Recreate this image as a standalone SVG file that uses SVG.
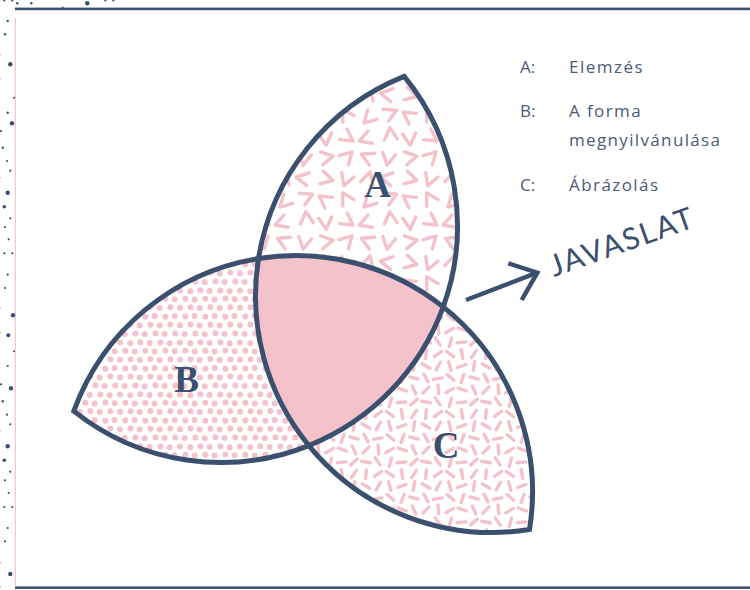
<svg xmlns="http://www.w3.org/2000/svg" xmlns:xlink="http://www.w3.org/1999/xlink" width="750" height="590" viewBox="0 0 750 590">
<style>
.pk{fill:none;stroke:#f4c2cb;stroke-width:3.4;stroke-linecap:round;stroke-linejoin:round}
.dot{fill:#f4c2cb}
.nv{fill:#3b4f6f}
.line{fill:none;stroke:#3b4f6f;stroke-width:5;stroke-linejoin:miter}
.lbl{font-family:"Liberation Serif","Times New Roman",serif;font-weight:bold;font-size:37px;fill:#3b4f6f;text-anchor:middle}
.leg{font-family:"Open Sans",Lato,sans-serif;font-size:17px;fill:#4b5a78}
.jav{font-family:Lato,"Open Sans",sans-serif;font-size:30px;fill:#3b4f6f}
.arrow{fill:none;stroke:#3b4f6f;stroke-width:4.5;stroke-linejoin:miter}
</style>
<defs>
<path id="chev" class="pk" d="M-6.5,-3.9 L0,7.8 L6.5,-3.9"/>
<line id="dash" class="pk" x1="-4.4" y1="0" x2="4.4" y2="0"/>
<pattern id="patA" patternUnits="userSpaceOnUse" width="84" height="84">
<use xlink:href="#chev" transform="translate(10.5,10.5) rotate(20)"/>
<use xlink:href="#chev" transform="translate(32,11.5) rotate(195)"/>
<use xlink:href="#chev" transform="translate(52,10.5) rotate(100)"/>
<use xlink:href="#chev" transform="translate(73.5,10.5) rotate(285)"/>
<use xlink:href="#chev" transform="translate(10.5,31.5) rotate(150)"/>
<use xlink:href="#chev" transform="translate(33.5,33.5) rotate(45)"/>
<use xlink:href="#chev" transform="translate(53.5,29.5) rotate(245)"/>
<use xlink:href="#chev" transform="translate(73.5,32.5) rotate(125)"/>
<use xlink:href="#chev" transform="translate(10.5,52.5) rotate(305)"/>
<use xlink:href="#chev" transform="translate(30.5,54.5) rotate(70)"/>
<use xlink:href="#chev" transform="translate(54.5,51.5) rotate(175)"/>
<use xlink:href="#chev" transform="translate(73.5,53.5) rotate(355)"/>
<use xlink:href="#chev" transform="translate(10.5,73.5) rotate(225)"/>
<use xlink:href="#chev" transform="translate(32.5,73.5) rotate(115)"/>
<use xlink:href="#chev" transform="translate(52.5,73.5) rotate(10)"/>
<use xlink:href="#chev" transform="translate(73.5,73.5) rotate(260)"/>
</pattern>
<pattern id="patB" patternUnits="userSpaceOnUse" width="60" height="52">
<g class="dot">
<circle cx="5.3" cy="4.6" r="3"/><circle cx="14.6" cy="4" r="3"/><circle cx="25.4" cy="4.8" r="3"/><circle cx="34.7" cy="4.1" r="3"/><circle cx="45.3" cy="4.7" r="3"/><circle cx="54.6" cy="4" r="3"/>
<circle cx="0" cy="13.3" r="3"/><circle cx="60" cy="13.3" r="3"/><circle cx="10.5" cy="12.6" r="3"/><circle cx="19.6" cy="13.5" r="3"/><circle cx="30.4" cy="12.7" r="3"/><circle cx="39.7" cy="13.4" r="3"/><circle cx="50.3" cy="12.6" r="3"/>
<circle cx="4.6" cy="22" r="3"/><circle cx="15.4" cy="21.4" r="3"/><circle cx="24.7" cy="22.2" r="3"/><circle cx="35.5" cy="21.3" r="3"/><circle cx="44.6" cy="22.1" r="3"/><circle cx="55.3" cy="21.5" r="3"/>
<circle cx="0" cy="30.4" r="3"/><circle cx="60" cy="30.4" r="3"/><circle cx="10.3" cy="31.2" r="3"/><circle cx="20.4" cy="30.3" r="3"/><circle cx="29.6" cy="31.1" r="3"/><circle cx="40.4" cy="30.5" r="3"/><circle cx="49.7" cy="31.3" r="3"/>
<circle cx="5.4" cy="38.7" r="3"/><circle cx="14.7" cy="39.4" r="3"/><circle cx="25.3" cy="38.8" r="3"/><circle cx="34.6" cy="39.5" r="3"/><circle cx="45.4" cy="38.6" r="3"/><circle cx="54.7" cy="39.3" r="3"/>
<circle cx="0" cy="47.8" r="3"/><circle cx="60" cy="47.8" r="3"/><circle cx="10.6" cy="47.2" r="3"/><circle cx="19.7" cy="48" r="3"/><circle cx="30.3" cy="47.1" r="3"/><circle cx="39.6" cy="47.9" r="3"/><circle cx="50.4" cy="47.3" r="3"/>
</g>
</pattern>
<pattern id="patC" patternUnits="userSpaceOnUse" width="60" height="60">
<use xlink:href="#dash" transform="translate(6,6) rotate(30)"/>
<use xlink:href="#dash" transform="translate(18.3,6) rotate(120)"/>
<use xlink:href="#dash" transform="translate(29.8,6) rotate(75)"/>
<use xlink:href="#dash" transform="translate(41.7,6) rotate(160)"/>
<use xlink:href="#dash" transform="translate(54,6) rotate(100)"/>
<use xlink:href="#dash" transform="translate(6,18) rotate(60)"/>
<use xlink:href="#dash" transform="translate(17.6,18.6) rotate(170)"/>
<use xlink:href="#dash" transform="translate(30.5,17.4) rotate(40)"/>
<use xlink:href="#dash" transform="translate(42.6,18.4) rotate(110)"/>
<use xlink:href="#dash" transform="translate(54,18) rotate(15)"/>
<use xlink:href="#dash" transform="translate(6,30) rotate(135)"/>
<use xlink:href="#dash" transform="translate(18.4,29.4) rotate(85)"/>
<use xlink:href="#dash" transform="translate(29.6,30.6) rotate(150)"/>
<use xlink:href="#dash" transform="translate(42.3,29.5) rotate(20)"/>
<use xlink:href="#dash" transform="translate(54,30) rotate(65)"/>
<use xlink:href="#dash" transform="translate(6,42) rotate(10)"/>
<use xlink:href="#dash" transform="translate(17.7,41.5) rotate(55)"/>
<use xlink:href="#dash" transform="translate(30.4,42.4) rotate(105)"/>
<use xlink:href="#dash" transform="translate(41.6,42.3) rotate(175)"/>
<use xlink:href="#dash" transform="translate(54,42) rotate(140)"/>
<use xlink:href="#dash" transform="translate(6,54) rotate(95)"/>
<use xlink:href="#dash" transform="translate(18,54) rotate(145)"/>
<use xlink:href="#dash" transform="translate(30,54) rotate(35)"/>
<use xlink:href="#dash" transform="translate(42,54) rotate(80)"/>
<use xlink:href="#dash" transform="translate(54,54) rotate(125)"/>
</pattern>
</defs>

<rect x="0" y="0" width="750" height="590" fill="#ffffff"/>

<g id="frame">
<rect x="15" y="7.6" width="735" height="2.6" fill="#3e5273"/>
<rect x="15" y="586.4" width="735" height="2.6" fill="#3e5273"/>
<rect x="14.8" y="18" width="1" height="568.4" fill="#f2b9c4"/>
<g class="nv">
<circle cx="4.3" cy="0.5" r="1.1"/><circle cx="12.3" cy="0.5" r="1.1"/><circle cx="17.3" cy="3.3" r="1.2"/><circle cx="31.3" cy="3.3" r="1.2"/><circle cx="62.7" cy="7.3" r="0.9"/><circle cx="87.3" cy="3.3" r="2.2"/><circle cx="105.3" cy="0.5" r="1.1"/><circle cx="113.3" cy="0.5" r="1.1"/>
<circle cx="7.7" cy="21" r="1.2"/><circle cx="5" cy="34.3" r="1.2"/><circle cx="0" cy="55" r="0.6"/><circle cx="10.3" cy="64.3" r="2.2"/><circle cx="0" cy="79" r="0.6"/><circle cx="14" cy="97.7" r="1"/><circle cx="7.7" cy="112.7" r="1.2"/><circle cx="12" cy="123.3" r="2.2"/><circle cx="1" cy="131" r="1.1"/><circle cx="2.7" cy="147.7" r="1.2"/><circle cx="7" cy="161" r="1.1"/><circle cx="10.3" cy="170.7" r="1.1"/><circle cx="0" cy="177.7" r="0.6"/>
<circle cx="7.7" cy="192.7" r="2.2"/><circle cx="4.3" cy="206.7" r="1.8"/><circle cx="10.3" cy="218.3" r="1.1"/><circle cx="5" cy="227" r="1.1"/><circle cx="8.7" cy="239.3" r="1.1"/><circle cx="4.3" cy="253.3" r="1.1"/><circle cx="12.3" cy="253.3" r="1.1"/><circle cx="7.7" cy="274.7" r="1.1"/><circle cx="5" cy="288" r="1.1"/><circle cx="0" cy="308" r="0.6"/><circle cx="13" cy="315.3" r="2.2"/><circle cx="0" cy="332.7" r="0.6"/><circle cx="8.3" cy="335.3" r="2"/><circle cx="14" cy="351.3" r="1"/><circle cx="7.7" cy="366" r="1.1"/><circle cx="1" cy="384.3" r="1.1"/><circle cx="11" cy="388.3" r="2.2"/><circle cx="2.7" cy="401.3" r="1.2"/><circle cx="7" cy="414.7" r="1.1"/><circle cx="10.3" cy="424.3" r="1.1"/><circle cx="0" cy="431" r="0.6"/>
<circle cx="7.7" cy="446.3" r="2.2"/><circle cx="4.3" cy="460.3" r="1.8"/><circle cx="10.3" cy="471.7" r="1.1"/><circle cx="5" cy="480.3" r="1.1"/><circle cx="8.7" cy="493" r="1.1"/><circle cx="4.3" cy="507" r="1.1"/><circle cx="12.3" cy="507" r="1.1"/><circle cx="7.7" cy="528" r="1.1"/><circle cx="5" cy="541.3" r="1.1"/><circle cx="0" cy="562.7" r="0.6"/><circle cx="10.3" cy="574" r="2.2"/><circle cx="0" cy="586.7" r="0.6"/>
</g>
</g>

<g id="petal-A">
<path d="M404.2,76.4 A236.5,236.5 0 0 0 258.5,258.5 A236.5,236.5 0 0 1 443.2,306.9 A236.5,236.5 0 0 0 404.2,76.4 Z" fill="url(#patA)"/>
<text class="lbl" x="377.5" y="197">A</text>
</g>
<g id="petal-B">
<path d="M73.8,411.1 A236.5,236.5 0 0 1 258.5,258.5 A236.5,236.5 0 0 0 308.8,445.6 A236.5,236.5 0 0 1 73.8,411.1 Z" fill="url(#patB)"/>
<text class="lbl" x="186.5" y="392">B</text>
</g>
<g id="petal-C">
<path d="M529.5,529.5 A236.5,236.5 0 0 1 308.8,445.6 A236.5,236.5 0 0 0 443.2,306.9 A236.5,236.5 0 0 1 529.5,529.5 Z" fill="url(#patC)"/>
<text class="lbl" x="446" y="458">C</text>
</g>
<g id="center">
<path class="line" d="M258.5,258.5 A236.5,236.5 0 0 1 443.2,306.9 A236.5,236.5 0 0 1 308.8,445.6 A236.5,236.5 0 0 1 258.5,258.5 Z" style="fill:#f4c2cb"/>
</g>
<g id="outline">
<path class="line" d="M404.2,76.4 A236.5,236.5 0 0 1 443.2,306.9 A236.5,236.5 0 0 1 529.5,529.5 A236.5,236.5 0 0 1 308.8,445.6 A236.5,236.5 0 0 1 73.8,411.1 A236.5,236.5 0 0 1 258.5,258.5 A236.5,236.5 0 0 1 404.2,76.4 Z"/>
</g>

<g id="connectors">
<path class="arrow" d="M466,300 L537.3,272.7"/>
<polyline class="arrow" points="508.3,263.3 537.3,272.7 521.7,300"/>
</g>

<g id="javaslat">
<text class="jav" transform="translate(554,277) rotate(-19.5)" textLength="150" lengthAdjust="spacing">JAVASLAT</text>
</g>

<g id="legend">
<text class="leg" x="520" y="73.3">A:</text>
<text class="leg" x="569" y="73.3" textLength="73.7" lengthAdjust="spacing">Elemzés</text>
<text class="leg" x="520" y="116.7">B:</text>
<text class="leg" x="569" y="116.7" textLength="71.7" lengthAdjust="spacing">A forma</text>
<text class="leg" x="569" y="145.5" textLength="151" lengthAdjust="spacing">megnyilvánulása</text>
<text class="leg" x="520" y="190.5">C:</text>
<text class="leg" x="569" y="190.5" textLength="89" lengthAdjust="spacing">Ábrázolás</text>
</g>
</svg>
